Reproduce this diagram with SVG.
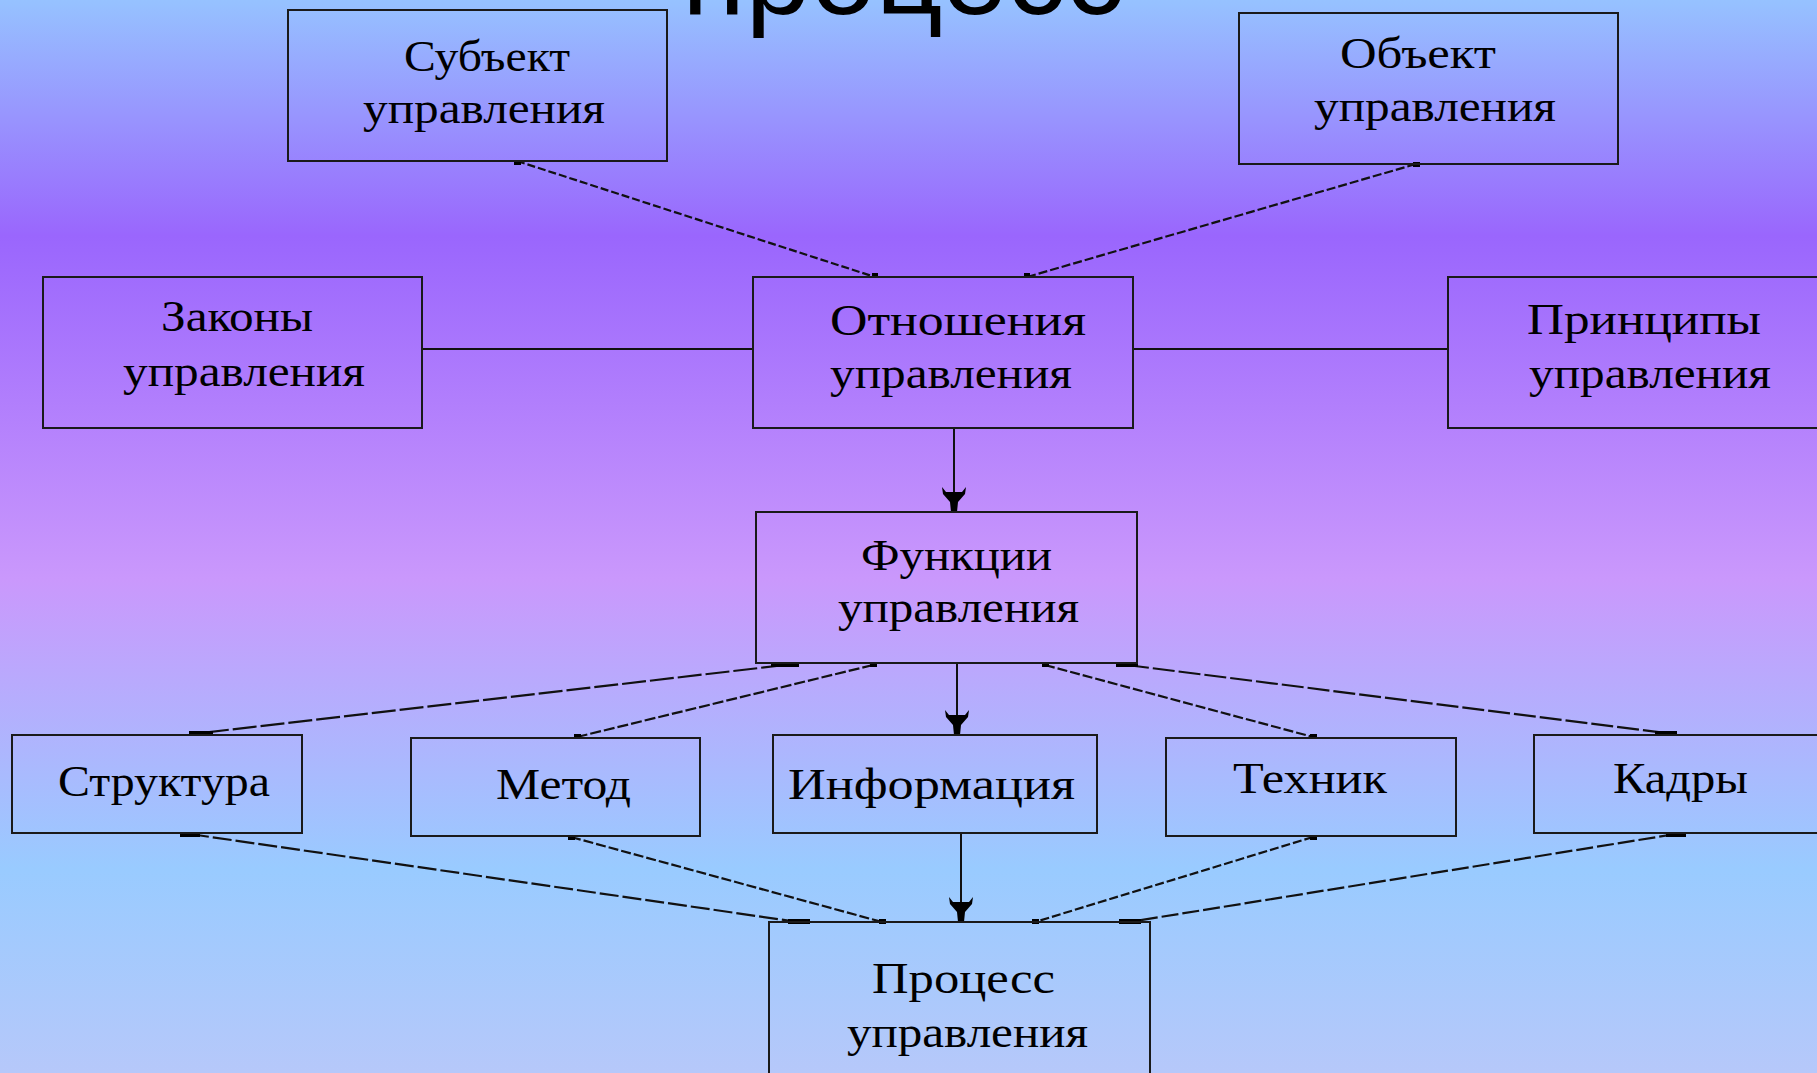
<svg xmlns="http://www.w3.org/2000/svg" width="1817" height="1073" viewBox="0 0 1817 1073">
<defs>
<linearGradient id="bg" x1="0" y1="0" x2="0" y2="1">
<stop offset="0" stop-color="#96C2FF"/>
<stop offset="0.22" stop-color="#9A66FD"/>
<stop offset="0.54" stop-color="#CA98FC"/>
<stop offset="0.81" stop-color="#99CBFF"/>
<stop offset="1" stop-color="#B6C8FA"/>
</linearGradient>
<path id="ah" d="M-12,-25 L-8,-20 L8,-20 L12,-25 L11,-18 L4,-10 L3,0 L-3,0 L-4,-10 L-11,-18 Z" fill="#000"/>
<style>
.box{fill:none;stroke:#1a1a1a;stroke-width:2}
.t{font-family:"Liberation Serif","Times New Roman",serif;font-size:44px;fill:#000}
.ln{stroke:#111;stroke-width:2;fill:none}
.dl{stroke:#111;stroke-width:2.2;fill:none}
.m{fill:#000}
.title{font-family:"Liberation Sans",Arial,sans-serif;font-size:117px;fill:#000}
</style>
</defs>
<rect x="0" y="0" width="1817" height="1073" fill="url(#bg)"/>
<text class="title" x="682" y="14" textLength="442" lengthAdjust="spacingAndGlyphs">процесс</text>

<g id="connectors">
<line class="dl" x1="517" y1="161" x2="875" y2="277" stroke-dasharray="8 3"/>
<line class="dl" x1="1416" y1="164" x2="1027" y2="277" stroke-dasharray="9 3"/>
<line class="ln" x1="422" y1="349" x2="753" y2="349"/>
<line class="ln" x1="1133" y1="349" x2="1448" y2="349"/>
<line class="ln" x1="954" y1="428" x2="954" y2="505" stroke-width="1.6"/>
<use href="#ah" transform="translate(954,512)"/>
<line class="dl" x1="785" y1="665" x2="201" y2="733" stroke-dasharray="24 4"/>
<line class="dl" x1="873" y1="665" x2="577" y2="737" stroke-dasharray="11 3"/>
<line class="ln" x1="957" y1="663" x2="957" y2="728" stroke-width="1.6"/>
<use href="#ah" transform="translate(957,735)"/>
<line class="dl" x1="1045" y1="665" x2="1313" y2="737" stroke-dasharray="10 3"/>
<line class="dl" x1="1127" y1="665" x2="1666" y2="733" stroke-dasharray="22 4"/>
<line class="dl" x1="190" y1="834" x2="798" y2="922" stroke-dasharray="19 4"/>
<line class="dl" x1="571" y1="837" x2="882" y2="922" stroke-dasharray="10 3"/>
<line class="ln" x1="961" y1="833" x2="961" y2="915" stroke-width="1.6"/>
<use href="#ah" transform="translate(961,922)"/>
<line class="dl" x1="1313" y1="837" x2="1035" y2="922" stroke-dasharray="9 3"/>
<line class="dl" x1="1676" y1="834" x2="1129" y2="922" stroke-dasharray="17 4"/>
<rect class="m" x="514" y="160" width="7" height="5"/>
<rect class="m" x="1413" y="162" width="7" height="5"/>
<rect class="m" x="872" y="273" width="6" height="5"/>
<rect class="m" x="1024" y="273" width="6" height="5"/>
<rect class="m" x="771" y="662" width="28" height="5"/>
<rect class="m" x="870" y="662" width="7" height="5"/>
<rect class="m" x="1042" y="662" width="7" height="5"/>
<rect class="m" x="1116" y="662" width="22" height="5"/>
<rect class="m" x="189" y="731" width="24" height="5"/>
<rect class="m" x="574" y="734" width="7" height="5"/>
<rect class="m" x="1310" y="734" width="7" height="5"/>
<rect class="m" x="1655" y="731" width="22" height="5"/>
<rect class="m" x="180" y="832" width="20" height="5"/>
<rect class="m" x="568" y="835" width="7" height="5"/>
<rect class="m" x="1310" y="835" width="7" height="5"/>
<rect class="m" x="1666" y="832" width="20" height="5"/>
<rect class="m" x="788" y="919" width="22" height="5"/>
<rect class="m" x="879" y="919" width="7" height="5"/>
<rect class="m" x="1032" y="919" width="7" height="5"/>
<rect class="m" x="1119" y="919" width="22" height="5"/>
</g>

<g id="subject">
<rect class="box" x="288" y="10" width="379" height="151"/>
<text class="t" x="404" y="71" textLength="166" lengthAdjust="spacingAndGlyphs">Субъект</text>
<text class="t" x="363" y="123" textLength="242" lengthAdjust="spacingAndGlyphs">управления</text>
</g>
<g id="object">
<rect class="box" x="1239" y="13" width="379" height="151"/>
<text class="t" x="1340" y="68" textLength="156" lengthAdjust="spacingAndGlyphs">Объект</text>
<text class="t" x="1314" y="121" textLength="242" lengthAdjust="spacingAndGlyphs">управления</text>
</g>
<g id="laws">
<rect class="box" x="43" y="277" width="379" height="151"/>
<text class="t" x="161" y="331" textLength="152" lengthAdjust="spacingAndGlyphs">Законы</text>
<text class="t" x="123" y="386" textLength="242" lengthAdjust="spacingAndGlyphs">управления</text>
</g>
<g id="relations">
<rect class="box" x="753" y="277" width="380" height="151"/>
<text class="t" x="830" y="335" textLength="256" lengthAdjust="spacingAndGlyphs">Отношения</text>
<text class="t" x="830" y="388" textLength="242" lengthAdjust="spacingAndGlyphs">управления</text>
</g>
<g id="principles">
<rect class="box" x="1448" y="277" width="380" height="151"/>
<text class="t" x="1527" y="334" textLength="234" lengthAdjust="spacingAndGlyphs">Принципы</text>
<text class="t" x="1529" y="388" textLength="242" lengthAdjust="spacingAndGlyphs">управления</text>
</g>
<g id="functions">
<rect class="box" x="756" y="512" width="381" height="151"/>
<text class="t" x="861" y="570" textLength="191" lengthAdjust="spacingAndGlyphs">Функции</text>
<text class="t" x="838" y="622" textLength="241" lengthAdjust="spacingAndGlyphs">управления</text>
</g>
<g id="structure">
<rect class="box" x="12" y="735" width="290" height="98"/>
<text class="t" x="58" y="796" textLength="212" lengthAdjust="spacingAndGlyphs">Структура</text>
</g>
<g id="method">
<rect class="box" x="411" y="738" width="289" height="98"/>
<text class="t" x="496" y="799" textLength="135" lengthAdjust="spacingAndGlyphs">Метод</text>
</g>
<g id="information">
<rect class="box" x="773" y="735" width="324" height="98"/>
<text class="t" x="788" y="799" textLength="287" lengthAdjust="spacingAndGlyphs">Информация</text>
</g>
<g id="technique">
<rect class="box" x="1166" y="738" width="290" height="98"/>
<text class="t" x="1233" y="793" textLength="154" lengthAdjust="spacingAndGlyphs">Техник</text>
</g>
<g id="personnel">
<rect class="box" x="1534" y="735" width="290" height="98"/>
<text class="t" x="1613" y="793" textLength="135" lengthAdjust="spacingAndGlyphs">Кадры</text>
</g>
<g id="process">
<rect class="box" x="769" y="922" width="381" height="160"/>
<text class="t" x="872" y="993" textLength="183" lengthAdjust="spacingAndGlyphs">Процесс</text>
<text class="t" x="847" y="1047" textLength="241" lengthAdjust="spacingAndGlyphs">управления</text>
</g>
</svg>
